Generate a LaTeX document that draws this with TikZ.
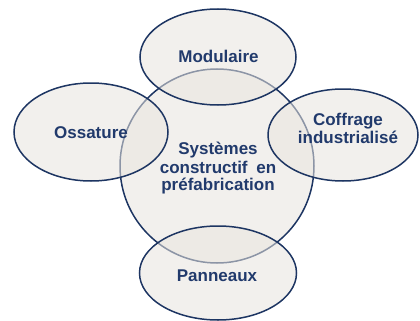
\documentclass[tikz,border=0pt]{standalone}
\usepackage{fontspec}
\setmainfont{Liberation Sans}
\usetikzlibrary{shapes.geometric}
\definecolor{navy}{RGB}{29,53,98}
\definecolor{txtnavy}{RGB}{33,58,108}
\definecolor{softfill}{RGB}{232,228,222}
\tikzset{
  bubble/.style={ellipse, draw=navy, line width=1.5pt, fill=softfill, fill opacity=0.55, inner sep=0pt},
  lbl/.style={anchor=base, inner sep=0pt, text=txtnavy, font=\fontsize{17}{19}\selectfont\bfseries}
}
\begin{document}
\begin{tikzpicture}[x=1pt,y=-1pt]
\useasboundingbox (0,0) rectangle (420,321);
% central circle
\node[bubble, circle, minimum size=194pt] (core) at (217,166) {};
% surrounding ellipses
\node[bubble, minimum width=156pt, minimum height=96pt] (mod) at (218,57) {};
\node[bubble, minimum width=154pt, minimum height=98pt] (oss) at (91,132) {};
\node[bubble, minimum width=150pt, minimum height=92pt] (cof) at (343,135) {};
\node[bubble, minimum width=157pt, minimum height=94pt] (pan) at (218,273) {};
% labels
\node[lbl] (tmod) at (218.5,63) {Modulaire};
\node[lbl] (toss) at (91,138) {Ossature};
\node[lbl] (tcof1) at (348,125) {Coffrage};
\node[lbl] (tcof2) at (348,143) {industrialisé};
\node[lbl] (tpan) at (217,281) {Panneaux};
\node[lbl] (tsys1) at (218,154) {Systèmes};
\node[lbl] (tsys2) at (218,173) {constructif\hspace{4pt} en};
\node[lbl] (tsys3) at (218,190) {préfabrication};
\end{tikzpicture}
\end{document}
